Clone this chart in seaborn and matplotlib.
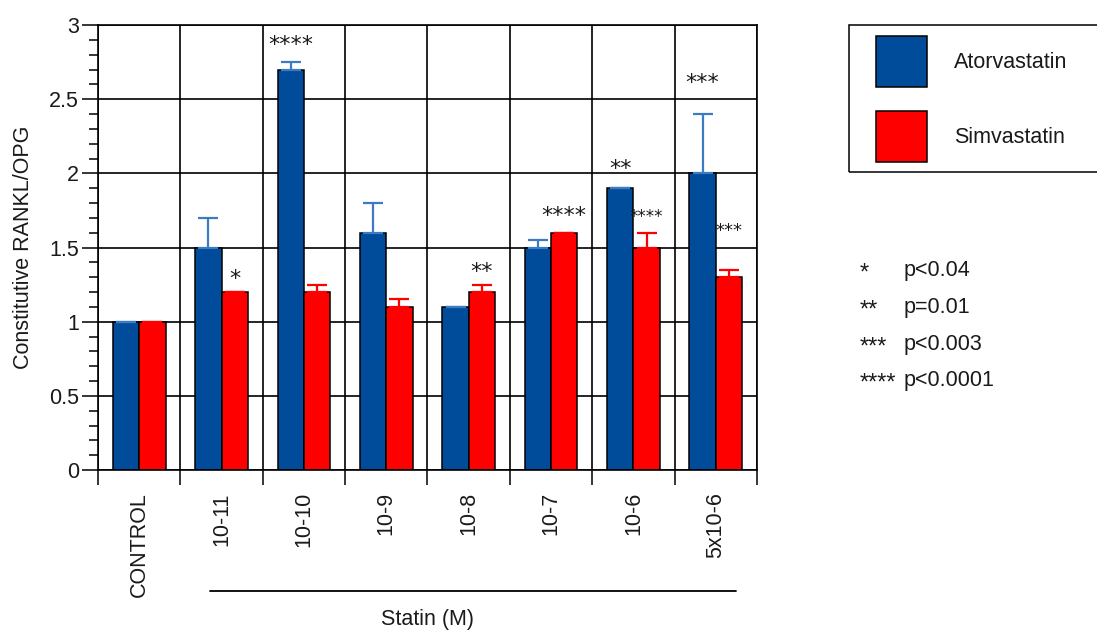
import numpy as np
import pandas as pd
import matplotlib
matplotlib.use("Agg")
import matplotlib.pyplot as plt
import matplotlib.transforms as mtransforms
from matplotlib.patches import Rectangle
from matplotlib.ticker import MultipleLocator, FixedLocator, FuncFormatter
import seaborn as sns

# ---- data -------------------------------------------------------------
doses = ["CONTROL", "10-11", "10-10", "10-9", "10-8", "10-7", "10-6", "5x10-6"]
series = ["Atorvastatin", "Simvastatin"]
atorvastatin = [1.0, 1.5, 2.7, 1.6, 1.1, 1.5, 1.9, 2.0]
atorvastatin_err = [0.0, 0.2, 0.05, 0.2, 0.0, 0.05, 0.0, 0.4]
simvastatin = [1.0, 1.2, 1.2, 1.1, 1.2, 1.6, 1.5, 1.3]
simvastatin_err = [0.0, 0.0, 0.05, 0.05, 0.05, 0.0, 0.1, 0.05]

# significance marks: (dose, series, stars)
sig_marks = [
    ("10-11", "Simvastatin", "*"),
    ("10-10", "Atorvastatin", "****"),
    ("10-8", "Simvastatin", "**"),
    ("10-7", "Simvastatin", "****"),
    ("10-6", "Atorvastatin", "**"),
    ("10-6", "Simvastatin", "****"),
    ("5x10-6", "Atorvastatin", "***"),
    ("5x10-6", "Simvastatin", "***"),
]
sig_gap_px = [20, 24, 20, 24, 27, 21, 38, 45]
sig_size = [16, 16, 16, 16, 16, 12, 16, 13]

pvalue_stars = ["*", "**", "***", "****"]
pvalue_text = ["p<0.04", "p=0.01", "p<0.003", "p<0.0001"]

BLUE = "#004C9A"
BLUE_ERR = "#3A7BC4"
RED = "#FF0000"
INK = "#1a1a1a"
FS = 15.5

# ---- style ------------------------------------------------------------
sns.set_theme(style="ticks")
plt.rcParams["font.family"] = ["Liberation Sans", "DejaVu Sans"]
plt.rcParams.update({
    "text.color": INK,
    "axes.labelcolor": INK,
    "xtick.color": "black",
    "ytick.color": "black",
    "xtick.labelcolor": INK,
    "ytick.labelcolor": INK,
    "axes.edgecolor": "black",
    "axes.linewidth": 1.1,
})

W, H = 1097, 633
fig = plt.figure(figsize=(W / 100, H / 100), dpi=100)
ax = fig.add_axes([98 / W, 1 - 470 / H, 659 / W, 445 / H])

df = pd.DataFrame({
    "dose": doses * 2,
    "statin": [series[0]] * len(doses) + [series[1]] * len(doses),
    "ratio": atorvastatin + simvastatin,
})

sns.barplot(
    data=df, x="dose", y="ratio", hue="statin",
    order=doses, hue_order=series, palette=[BLUE, RED],
    width=0.64, saturation=1, edgecolor="black", linewidth=1.1,
    errorbar=None, legend=False, ax=ax, zorder=2,
)

# upper error bars with caps
centers = {}
for name, cont, errs, ecol in zip(series, ax.containers,
                                  [atorvastatin_err, simvastatin_err],
                                  [BLUE_ERR, RED]):
    xs = [p.get_x() + p.get_width() / 2 for p in cont]
    ys = [p.get_height() for p in cont]
    ax.errorbar(xs, ys, yerr=[np.zeros(len(errs)), errs], fmt="none",
                ecolor=ecol, elinewidth=1.6, capsize=7.2, capthick=1.6,
                zorder=3)
    for d, x, y, e in zip(doses, xs, ys, errs):
        centers[(d, name)] = (x, y + e)

# significance stars above bars
for (d, name, stars), gap, size in zip(sig_marks, sig_gap_px, sig_size):
    x, top = centers[(d, name)]
    ax.annotate(stars, xy=(x, top), xytext=(0, gap * 0.72 - 0.6 * size),
                textcoords="offset points", ha="center", va="baseline",
                fontsize=size, family="DejaVu Sans", color=INK, zorder=4)

# axes, ticks and grid
ax.set_xlim(-0.5, len(doses) - 0.5)
ax.set_ylim(0, 3)
ax.yaxis.set_major_locator(MultipleLocator(0.5))
ax.yaxis.set_minor_locator(MultipleLocator(0.1))
ax.yaxis.set_major_formatter(FuncFormatter(lambda v, _: f"{v:g}"))
ax.xaxis.set_minor_locator(FixedLocator(np.arange(-0.5, len(doses), 1.0)))

ax.set_axisbelow(True)
ax.grid(axis="y", which="major", color="black", linewidth=1.2)
ax.grid(axis="x", which="minor", color="black", linewidth=1.2)
ax.grid(axis="y", which="minor", visible=False)
ax.grid(axis="x", which="major", visible=False)

ax.tick_params(axis="y", which="major", length=11.5, width=1.1,
               direction="out", pad=2.2, labelsize=FS)
ax.tick_params(axis="y", which="minor", length=6.5, width=1.1,
               direction="out")
ax.tick_params(axis="x", which="major", length=0, pad=16, labelsize=FS,
               labelrotation=90)
ax.tick_params(axis="x", which="minor", length=10.8, width=1.1,
               direction="out")
for s in ax.spines.values():
    s.set_visible(True)
    s.set_color("black")
    s.set_linewidth(1.2)

ax.set_ylabel("Constitutive RANKL/OPG", fontsize=FS, va="center")
ax.yaxis.set_label_coords(-0.1123, 0.5)
ax.set_xlabel("Statin (M)", fontsize=FS, va="center")
ax.xaxis.set_label_coords(0.5, -0.337)

# bracket under the statin doses
trans = mtransforms.blended_transform_factory(ax.transData, ax.transAxes)
ax.plot([1 - 0.14, 7 + 0.25], [-0.272, -0.272], transform=trans,
        color="black", linewidth=1.3, clip_on=False)

# legend with a square frame
handles = [cont[0] for cont in ax.containers]
leg = ax.legend(handles, series, loc="upper left",
                bbox_to_anchor=(876 / W, 1 - 36 / H),
                bbox_transform=fig.transFigure, frameon=False,
                borderpad=0, borderaxespad=0, fontsize=FS,
                handlelength=2.37, handleheight=3.27,
                labelspacing=1.11, handletextpad=1.25)
fig.add_artist(Rectangle((849 / W, 1 - 172 / H), 300 / W, 147 / H,
                         transform=fig.transFigure, fill=False,
                         edgecolor="black", linewidth=1.1))

# p-value key
row_y = [268, 305, 342, 378]
for st, txt, y in zip(pvalue_stars, pvalue_text, row_y):
    fig.text(860 / W, 1 - (y + 12) / H, st, ha="left", va="baseline",
             fontsize=17, color=INK)
    fig.text(904 / W, 1 - (y + 7.7) / H, txt, ha="left", va="baseline",
             fontsize=FS, color=INK)

fig.savefig("out.png", dpi=100)
